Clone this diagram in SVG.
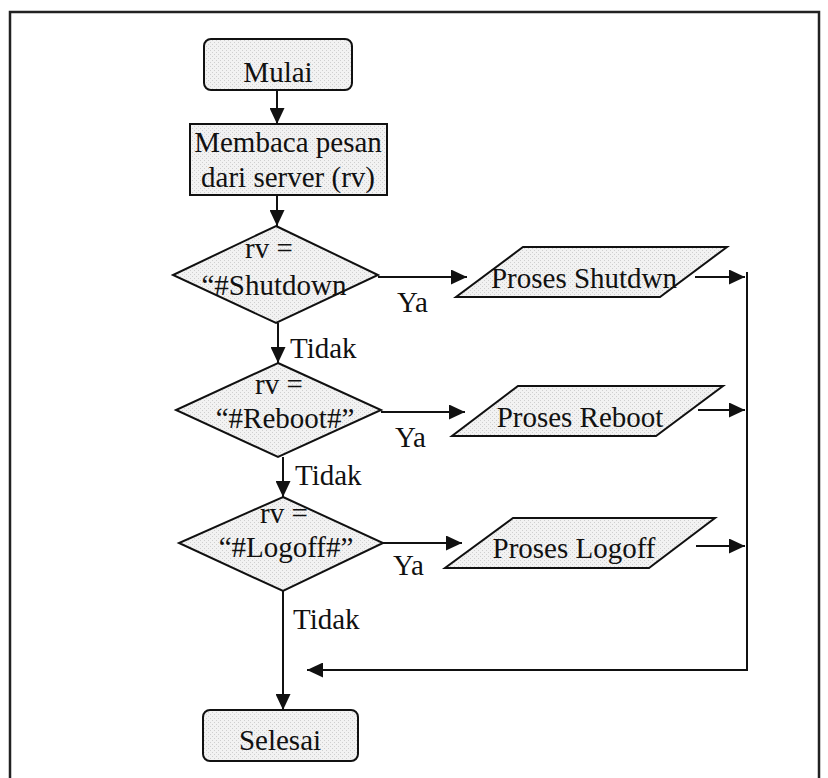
<svg xmlns="http://www.w3.org/2000/svg" width="828" height="778" viewBox="0 0 828 778">
  <style>
    .shape { fill: url(#stipple); stroke: #111; stroke-width: 2; stroke-linejoin: miter; }
    .conn { fill: none; stroke: #111; stroke-width: 2; }
    .arrow { marker-end: url(#head); }
    text { font-family: "Liberation Serif", "Times New Roman", serif; font-size: 29px; fill: #111; }
    .c { text-anchor: middle; }
  </style>
  <defs>
    <!-- light grey stipple fill used by every flowchart symbol -->
    <pattern id="stipple" width="4" height="4" patternUnits="userSpaceOnUse">
      <rect width="4" height="4" fill="#f2f2f2"/>
      <rect x="0" y="0" width="1" height="1" fill="#cfcfcf"/>
      <rect x="2" y="2" width="1" height="1" fill="#cfcfcf"/>
    </pattern>
    <marker id="head" markerUnits="userSpaceOnUse" markerWidth="16" markerHeight="15" refX="16" refY="7.5" orient="auto">
      <path d="M0,0 L16,7.5 L0,15 z" fill="#111"/>
    </marker>
  </defs>

  <!-- page frame -->
  <rect x="10" y="12" width="809" height="790" fill="#fff" stroke="#222" stroke-width="2.5"/>

  <!-- connectors -->
  <g id="connectors">
    <line class="conn arrow" x1="277" y1="90" x2="277" y2="124"/>
    <line class="conn arrow" x1="277" y1="195" x2="277" y2="226"/>
    <line class="conn arrow" x1="278" y1="323" x2="278" y2="363"/>
    <line class="conn arrow" x1="283" y1="457" x2="283" y2="497"/>
    <line class="conn arrow" x1="283" y1="591" x2="283" y2="710"/>

    <line class="conn arrow" x1="378" y1="277" x2="467" y2="277"/>
    <line class="conn arrow" x1="381" y1="412" x2="465" y2="412"/>
    <line class="conn arrow" x1="383" y1="543" x2="462" y2="543"/>

    <line class="conn arrow" x1="695" y1="277" x2="745" y2="277"/>
    <line class="conn arrow" x1="698" y1="410" x2="745" y2="410"/>
    <line class="conn arrow" x1="696" y1="546" x2="745" y2="546"/>

    <line class="conn" x1="747" y1="272" x2="747" y2="671"/>
    <line class="conn arrow" x1="748" y1="670" x2="307" y2="670"/>

    <text x="397" y="312">Ya</text>
    <text x="395" y="447">Ya</text>
    <text x="393" y="575">Ya</text>
    <text x="290" y="358">Tidak</text>
    <text x="295" y="485">Tidak</text>
    <text x="293" y="629">Tidak</text>
  </g>

  <g id="mulai">
    <rect class="shape" x="204" y="39" width="148" height="51" rx="7"/>
    <text class="c" x="278" y="82">Mulai</text>
  </g>

  <g id="baca-pesan">
    <rect class="shape" x="190" y="124" width="197" height="71"/>
    <text class="c" x="288" y="152">Membaca pesan</text>
    <text class="c" x="288" y="187">dari server (rv)</text>
  </g>

  <g id="cek-shutdown">
    <polygon class="shape" points="276,226 378,275 276,323 173,275"/>
    <text class="c" x="269" y="258">rv =</text>
    <text class="c" x="274" y="295">“#Shutdown</text>
  </g>

  <g id="cek-reboot">
    <polygon class="shape" points="278,363 381,410 278,457 176,410"/>
    <text class="c" x="279" y="394">rv =</text>
    <text class="c" x="285" y="428">“#Reboot#”</text>
  </g>

  <g id="cek-logoff">
    <polygon class="shape" points="283,497 383,543 283,591 179,543"/>
    <text class="c" x="284" y="523">rv =</text>
    <text class="c" x="286" y="557">“#Logoff#”</text>
  </g>

  <g id="proses-shutdown">
    <polygon class="shape" points="523,247 727,247 660,297 456,297"/>
    <text class="c" x="584" y="288">Proses Shutdwn</text>
  </g>

  <g id="proses-reboot">
    <polygon class="shape" points="518,386 723,386 656,436 452,436"/>
    <text class="c" x="580" y="427">Proses Reboot</text>
  </g>

  <g id="proses-logoff">
    <polygon class="shape" points="513,518 715,518 649,568 445,568"/>
    <text class="c" x="574" y="558">Proses Logoff</text>
  </g>

  <g id="selesai">
    <rect class="shape" x="203" y="710" width="155" height="51" rx="7"/>
    <text class="c" x="280" y="750">Selesai</text>
  </g>
</svg>
